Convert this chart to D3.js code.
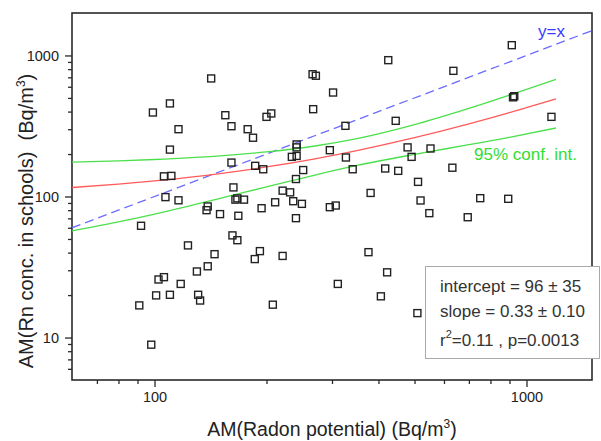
<!DOCTYPE html>
<html><head><meta charset="utf-8">
<script src="https://cdn.jsdelivr.net/npm/d3@7"></script>
<style>
body{margin:0;background:#fff}
text{font-family:Arial,"Liberation Sans",sans-serif}
</style>
</head><body><svg id="c" width="601" height="441"></svg>
<script>
// ---- data ----
const radonPotential = [142,110,99,155,116,161,178,184,110,161,106,111,107,116,163,165,167,174,92,139,138,150,168,123,162,167,145,130,139,102.5,106,117.6,101,110,131,132.6,91,98,186,192,194,211,236,249,240,296,307,519,221,376,422,311,406,208,509,548,751,893,695,425,266,271.5,302,267,200,206,326,445,241,241,234,241,296,327,479,491,186.5,196,251,341,417,452,240,511,221,231.5,381,913,636,927,920,1167,552,632];
const schoolConc     = [687,457,394,377,300,315,300,261,215,174,139,140,99,94,116,95,97,95,62,85,80,75,73,45,53,49,39,29.4,32,25.8,26.8,24,19.9,20.1,20.1,18.3,16.9,8.9,36,41,82.6,91,92.6,88.7,70.2,84,86.3,93.7,37.9,40.3,29,24,19.6,17.1,14.9,76.2,97.3,96.3,71.3,926,736,718,546,416,367,388,317,344,234,223,191,194,213,189,223,191,165,156,154,156,158,152,133,127,110,107,106,1183,778,514,505,367,219,160];
const intercept = 96, slope = 0.33;
const bandX     = [60, 80, 100, 150, 200, 270, 350, 500, 700, 900, 1200];
const bandUpper = [175,179,183,194,207,228,257,323,421,523,678];
const bandLower = [57, 66, 75, 97, 117,142,166,199,233,263,306];
const xMajorTicks = [100, 1000];
const xMinorTicks = [70,80,90,200,300,400,500,600,700,800,900];
const yMajorTicks = [10, 100, 1000];
const yMinorTicks = [6,7,8,9,20,30,40,50,60,70,80,90,200,300,400,500,600,700,800,900];
const identityLine = [60, 1500];
const statsLines = ["intercept = 96 \u00B1 35", "slope = 0.33 \u00B1 0.10"];

// ---- layout ----
const L = 72, R = 592, T = 13, B = 380;
const svg = d3.select("#c");
const x = d3.scaleLog().domain([60, 1500]).range([L, R]);
const y = d3.scaleLog().domain([5, 2000]).range([B, T]);
const axisColor = "#2a2a2a";

// frame
svg.append("rect").attr("x", L).attr("y", T).attr("width", R - L).attr("height", B - T)
  .attr("fill", "none").attr("stroke", axisColor).attr("stroke-width", 1.6);

// axes
function styleAxis(g){ g.select(".domain").remove(); g.selectAll("line").attr("stroke", axisColor).attr("stroke-width", 1.3); }
svg.append("g").attr("transform", `translate(0,${B})`)
  .call(d3.axisBottom(x).tickValues(xMajorTicks).tickSize(7).tickPadding(5).tickFormat(d3.format("d")))
  .call(styleAxis).selectAll("text").attr("font-size", 14.5).attr("fill", "#222");
svg.append("g").attr("transform", `translate(0,${B})`)
  .call(d3.axisBottom(x).tickValues(xMinorTicks).tickSize(4).tickFormat(""))
  .call(styleAxis);
svg.append("g").attr("transform", `translate(${L},0)`)
  .call(d3.axisLeft(y).tickValues(yMajorTicks).tickSize(7).tickPadding(6).tickFormat(d3.format("d")))
  .call(styleAxis).selectAll("text").attr("font-size", 14.5).attr("fill", "#222");
svg.append("g").attr("transform", `translate(${L},0)`)
  .call(d3.axisLeft(y).tickValues(yMinorTicks).tickSize(4).tickFormat(""))
  .call(styleAxis);

// clip
svg.append("clipPath").attr("id", "clip").append("rect").attr("x", L).attr("y", T).attr("width", R - L).attr("height", B - T);
const plot = svg.append("g").attr("clip-path", "url(#clip)");

// y = x dashed
plot.append("path").datum(identityLine)
  .attr("d", d3.line().x(d => x(d)).y(d => y(d)))
  .attr("fill", "none").attr("stroke", "#6b6bff").attr("stroke-width", 1.3).attr("stroke-dasharray", "9,5");

// confidence band
const curve = d3.line().curve(d3.curveMonotoneX);
plot.append("path").attr("d", curve(bandX.map((v, i) => [x(v), y(bandUpper[i])])))
  .attr("fill", "none").attr("stroke", "#4be04b").attr("stroke-width", 1.3);
plot.append("path").attr("d", curve(bandX.map((v, i) => [x(v), y(bandLower[i])])))
  .attr("fill", "none").attr("stroke", "#4be04b").attr("stroke-width", 1.3);
// regression line
plot.append("path").attr("d", curve(bandX.map(v => [x(v), y(intercept + slope * v)])))
  .attr("fill", "none").attr("stroke", "#ff5a5a").attr("stroke-width", 1.3);

// points
const s = 7;
plot.selectAll("rect.pt").data(radonPotential.map((v, i) => [v, schoolConc[i]]))
  .join("rect").attr("class", "pt")
  .attr("x", d => x(d[0]) - s / 2).attr("y", d => y(d[1]) - s / 2)
  .attr("width", s).attr("height", s)
  .attr("fill", "none").attr("stroke", "#222").attr("stroke-width", 1.4);

// annotations
svg.append("text").attr("x", 538).attr("y", 37).attr("font-size", 17).attr("fill", "#3a3aff").text("y=x");
svg.append("text").attr("x", 474).attr("y", 160).attr("font-size", 17).attr("fill", "#33dd33").text("95% conf. int.");

// stats box
svg.append("rect").attr("x", 425.5).attr("y", 266.5).attr("width", 174).attr("height", 92)
  .attr("fill", "#fff").attr("stroke", "#aaa").attr("stroke-width", 1);
const tb = svg.append("g").attr("font-size", 17).attr("fill", "#333");
tb.append("text").attr("x", 440).attr("y", 292).text(statsLines[0]);
tb.append("text").attr("x", 440).attr("y", 317).text(statsLines[1]);
const t3 = tb.append("text").attr("x", 440).attr("y", 346);
t3.append("tspan").text("r");
t3.append("tspan").attr("dy", -8).attr("font-size", 11).text("2");
t3.append("tspan").attr("dy", 8).text("=0.11 , p=0.0013");

// axis titles
const xt = svg.append("text").attr("x", 332).attr("y", 436).attr("text-anchor", "middle").attr("font-size", 19.5).attr("fill", "#222");
xt.append("tspan").text("AM(Radon potential) (Bq/m");
xt.append("tspan").attr("dy", -8).attr("font-size", 12).text("3");
xt.append("tspan").attr("dy", 8).text(")");

const yt = svg.append("text").attr("transform", "translate(33,221) rotate(-90)").attr("text-anchor", "middle").attr("font-size", 20).attr("fill", "#222");
yt.append("tspan").text("AM(Rn conc. in schools)\u00A0\u00A0(Bq/m");
yt.append("tspan").attr("dy", -8).attr("font-size", 12).text("3");
yt.append("tspan").attr("dy", 8).text(")");
</script>
</body></html>
